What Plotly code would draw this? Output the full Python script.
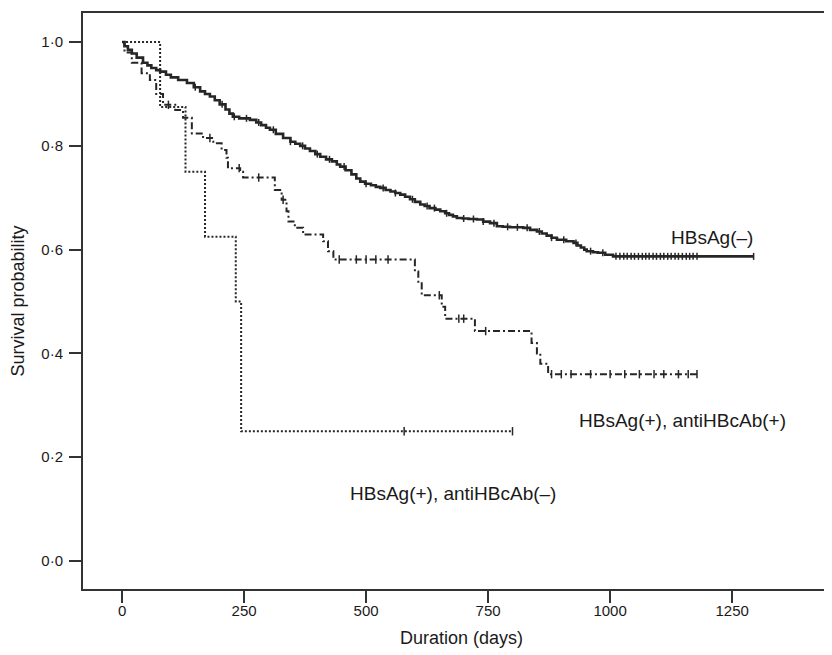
import numpy as np
import plotly.graph_objects as go

# HBsAg(-) : solid
neg_t = [0, 5, 12, 20, 30, 43, 52, 60, 70, 78, 90, 100, 115, 133, 147, 160, 170, 180, 190, 200,
         212, 220, 227, 240, 262, 275, 285, 295, 303, 315, 330, 345, 355, 365, 375, 385, 396,
         406, 418, 430, 440, 447, 458, 470, 480, 488, 498, 510, 520, 529, 540, 550, 560, 570,
         580, 590, 600, 611, 620, 630, 642, 652, 662, 670, 678, 686, 698, 710, 727, 740, 754,
         768, 780, 795, 822, 836, 850, 860, 870, 880, 891, 910, 925, 933, 940, 947, 952, 965,
         975, 990, 1006, 1294]
neg_s = [1.0, 0.992, 0.985, 0.978, 0.970, 0.960, 0.955, 0.950, 0.946, 0.943, 0.937, 0.932,
         0.927, 0.921, 0.913, 0.905, 0.900, 0.895, 0.888, 0.880, 0.870, 0.862, 0.856, 0.853,
         0.850, 0.845, 0.840, 0.835, 0.831, 0.823, 0.815, 0.808, 0.804, 0.800, 0.795, 0.790,
         0.784, 0.779, 0.774, 0.770, 0.764, 0.760, 0.753, 0.745, 0.737, 0.731, 0.727, 0.724,
         0.721, 0.719, 0.715, 0.712, 0.709, 0.706, 0.702, 0.697, 0.692, 0.687, 0.684, 0.680,
         0.677, 0.674, 0.670, 0.667, 0.664, 0.661, 0.660, 0.659, 0.658, 0.654, 0.651, 0.645,
         0.644, 0.643, 0.642, 0.638, 0.635, 0.631, 0.627, 0.623, 0.619, 0.616, 0.613, 0.608,
         0.604, 0.600, 0.597, 0.595, 0.594, 0.590, 0.587, 0.587]
neg_cens = [150, 205, 230, 255, 280, 310, 345, 370, 400, 425, 455, 500, 535, 560, 595, 625,
            640, 665, 700, 720, 740, 762, 790, 810, 830, 855, 880, 905, 930, 960, 985,
            1012, 1020, 1028, 1035, 1043, 1050, 1058, 1066, 1073, 1080, 1088, 1095, 1103,
            1110, 1118, 1125, 1133, 1140, 1148, 1156, 1163, 1170, 1178, 1294]

# HBsAg(+), antiHBcAb(+) : dash-dot
pos_t = [0, 5, 20, 40, 57, 70, 84, 109, 125, 143, 166, 187, 204, 214, 217, 242, 248, 313, 327,
         337, 341, 354, 371, 412, 422, 433, 600, 607, 614, 655, 662, 723, 839, 850, 857, 873, 1178]
pos_s = [1.0, 0.98, 0.96, 0.94, 0.927, 0.90, 0.879, 0.869, 0.854, 0.824, 0.815, 0.805, 0.792,
         0.777, 0.757, 0.75, 0.739, 0.715, 0.696, 0.674, 0.654, 0.642, 0.629, 0.616, 0.597,
         0.581, 0.558, 0.535, 0.512, 0.49, 0.467, 0.443, 0.42, 0.40, 0.38, 0.36, 0.36]
pos_cens = [95, 180, 240, 280, 330, 445, 480, 500, 520, 545, 650, 690, 700, 745, 880, 900,
            920, 960, 1000, 1030, 1060, 1090, 1110, 1140, 1160, 1178]

# HBsAg(+), antiHBcAb(-) : dotted
dn_t = [0, 78, 130, 170, 233, 244, 800]
dn_s = [1.0, 0.875, 0.75, 0.625, 0.5, 0.25, 0.25]
dn_cens = [578, 800]

y_ticks = [0.0, 0.2, 0.4, 0.6, 0.8, 1.0]
y_ticktext = ["0·0", "0·2", "0·4", "0·6", "0·8", "1·0"]
x_ticks = [0, 250, 500, 750, 1000, 1250]

labels = ["HBsAg(–)", "HBsAg(+), antiHBcAb(+)", "HBsAg(+), antiHBcAb(–)"]
label_pos = [(1209, 0.623), (1148, 0.271), (678, 0.131)]

INK = "#262626"
FONT = "Liberation Sans, Arial, sans-serif"


def step_at(ts, ss, c):
    i = np.searchsorted(np.asarray(ts), c, side="right") - 1
    return ss[max(i, 0)]


fig = go.Figure()
series = [
    (neg_t, neg_s, neg_cens, "solid", 2.6, 5),
    (pos_t, pos_s, pos_cens, "7px,3px,2px,3px", 2.0, 6),
    (dn_t, dn_s, dn_cens, "2px,2px", 2.0, 6),
]
for ts, ss, cens, dash, w, ms in series:
    fig.add_trace(go.Scatter(x=ts, y=ss, mode="lines", line=dict(shape="hv", color=INK, width=w, dash=dash),
                             showlegend=False, hoverinfo="skip"))
    fig.add_trace(go.Scatter(x=cens, y=[step_at(ts, ss, c) for c in cens], mode="markers",
                             marker=dict(symbol="line-ns", size=ms, line=dict(color=INK, width=1.5)),
                             showlegend=False, hoverinfo="skip"))

for txt, (x, y) in zip(labels, label_pos):
    fig.add_annotation(x=x, y=y, text=txt, showarrow=False, font=dict(family=FONT, size=19, color="#1a1a1a"))

fig.update_layout(
    width=832, height=655,
    margin=dict(l=75, r=0, t=5, b=74),
    paper_bgcolor="white", plot_bgcolor="white",
    font=dict(family=FONT, color="#1a1a1a"),
    xaxis=dict(range=[-80, 1471], tickvals=x_ticks, ticks="outside", ticklen=12, tickwidth=2,
               tickcolor="#333", showline=True, linecolor="#333", linewidth=2, mirror=True,
               showgrid=False, zeroline=False, tickfont=dict(size=15), automargin=False,
               ticklabelstandoff=-5,
               title=dict(text="Duration (days)", font=dict(size=18), standoff=13)),
    yaxis=dict(range=[-0.054, 1.056], tickvals=y_ticks, ticktext=y_ticktext, ticks="outside",
               ticklen=12, tickwidth=2, tickcolor="#333", showline=True, linecolor="#333",
               linewidth=2, showgrid=False, zeroline=False, tickfont=dict(size=15), automargin=False,
               ticklabelstandoff=3,
               title=dict(text="Survival probability", font=dict(size=18), standoff=20)),
)

fig.write_html("out.html")
